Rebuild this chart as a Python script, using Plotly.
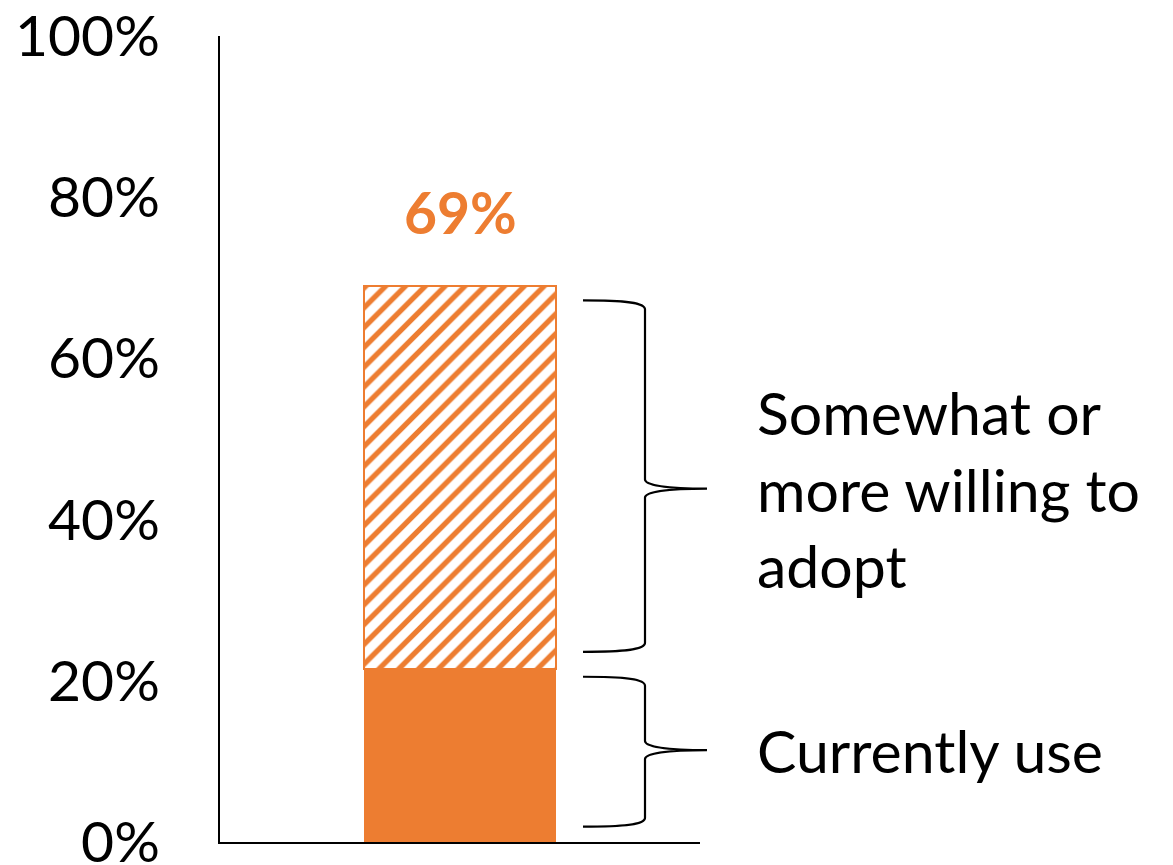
import plotly.graph_objects as go

# ---- data ----
categories = ["All"]
current_use = [21.5]          # % currently use
willing_total = [69]          # % somewhat or more willing (incl. current users)
series_names = ["Currently use", "Somewhat or more willing to adopt"]
tick_vals = [0, 20, 40, 60, 80, 100]
tick_text = ["0%", "20%", "40%", "60%", "80%", "100%"]

ORANGE = "#ED7D31"
FONT = "Lato"
FS_TICK = 57
FS_TEXT = 59

willing_extra = [t - c for t, c in zip(willing_total, current_use)]

# page body has an 8px default margin
OFF = 8
W, H = 1173 - OFF, 865 - OFF
ML, MR, MT, MB = 220 - OFF, 0, 36 - OFF, 865 - 842
PW = W - ML - MR
PH = H - MT - MB
x_dom_end = (700 - 220) / PW

fig = go.Figure()
fig.add_trace(go.Bar(
    x=[0], y=current_use, width=1, name=series_names[0],
    marker=dict(color=ORANGE, line=dict(width=0)),
    hoverinfo="skip",
))
fig.add_trace(go.Bar(
    x=[0], y=willing_extra, width=1, name=series_names[1],
    marker=dict(color="white",
                line=dict(color=ORANGE, width=2),
                pattern=dict(shape="/", fgcolor=ORANGE, bgcolor="white",
                             size=14, solidity=0.38, fillmode="replace",
                             fgopacity=1)),
    hoverinfo="skip",
))


def px2paper(px):
    # px in window coordinates
    return (px - 220) / PW


def bracket_path(top, bottom, tip, x0px=583, x1px=645, x2px=707, curve_px=9):
    c = curve_px / PH * 100.0
    x0, x1, x2 = px2paper(x0px), px2paper(x1px), px2paper(x2px)
    xm = x1 + (x2 - x1) * 0.35
    p = (
        f"M {x0},{top} "
        f"C {x0 + (x1 - x0) * 0.7},{top} {x1},{top - c * 0.25} {x1},{top - c} "
        f"L {x1},{tip + c} "
        f"C {x1},{tip + c * 0.35} {xm},{tip} {x2},{tip} "
        f"C {xm},{tip} {x1},{tip - c * 0.35} {x1},{tip - c} "
        f"L {x1},{bottom + c} "
        f"C {x1},{bottom + c * 0.25} {x0 + (x1 - x0) * 0.7},{bottom} {x0},{bottom}"
    )
    return p


brackets = [
    # (top, bottom, tip) in axis %
    (67.2, 23.6, 43.85),
    (20.5, 1.9, 11.4),
]
shapes = []
for top, bottom, tip in brackets:
    shapes.append(dict(type="path", xref="paper", yref="y",
                       path=bracket_path(top, bottom, tip),
                       line=dict(color="black", width=2.2)))

annotations = [
    dict(x=0, y=willing_total[0], xref="x", yref="y", text=f"<b>{willing_total[0]}%</b>",
         showarrow=False, yanchor="bottom", yshift=38,
         font=dict(family=FONT, size=FS_TEXT - 2, color=ORANGE)),
    dict(x=px2paper(755), y=brackets[0][2], xref="paper", yref="y",
         text="Somewhat or<br>more willing to<br>adopt", align="left",
         showarrow=False, xanchor="left", yanchor="middle",
         font=dict(family=FONT, size=FS_TEXT, color="black")),
    dict(x=px2paper(755), y=brackets[1][2], xref="paper", yref="y",
         text=series_names[0], align="left",
         showarrow=False, xanchor="left", yanchor="middle",
         font=dict(family=FONT, size=FS_TEXT, color="black")),
]

fig.update_layout(
    width=W, height=H,
    margin=dict(l=ML, r=MR, t=MT, b=MB, autoexpand=False),
    barmode="stack",
    bargap=0,
    showlegend=False,
    plot_bgcolor="white",
    paper_bgcolor="white",
    font=dict(family=FONT, size=FS_TICK, color="black"),
    xaxis=dict(domain=[0, x_dom_end], range=[-1.245, 1.245], automargin=False,
               showticklabels=False, ticks="", showgrid=False, zeroline=False,
               showline=True, linecolor="black", linewidth=1.5, fixedrange=True),
    yaxis=dict(range=[0, 100], tickvals=tick_vals, ticktext=tick_text,
               automargin=False,
               showgrid=False, zeroline=False, ticks="",
               showline=True, linecolor="black", linewidth=1.5,
               ticklabelstandoff=47, ticklabeloverflow="allow",
               tickfont=dict(family=FONT, size=FS_TICK, color="black"),
               fixedrange=True),
    shapes=shapes,
    annotations=annotations,
)

fig.write_html("out.html")
